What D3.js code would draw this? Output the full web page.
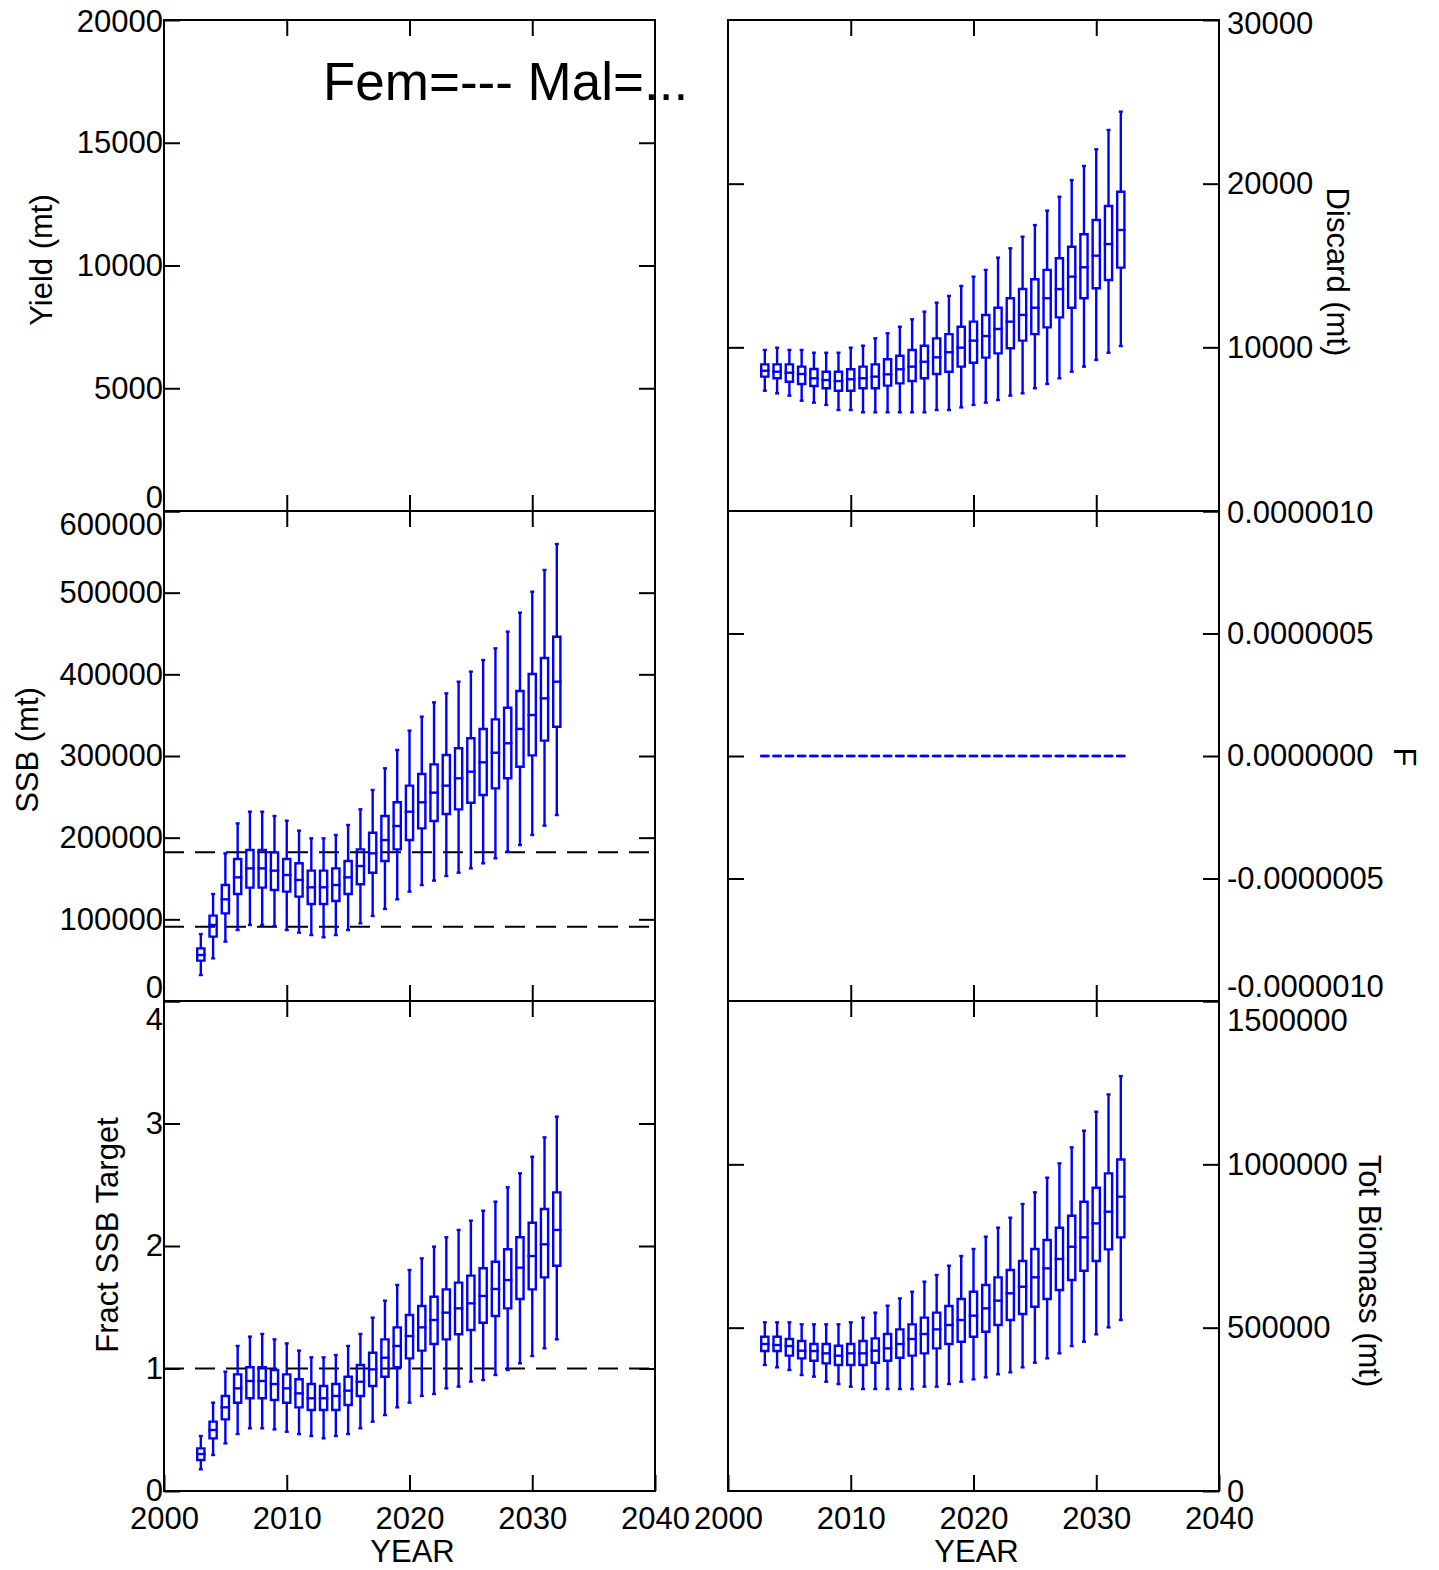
<!DOCTYPE html>
<html>
<head>
<meta charset="utf-8">
<script src="https://cdn.jsdelivr.net/npm/d3@7"></script>
<style>
  html, body { margin: 0; padding: 0; background: #fff; }
  svg { display: block; }
</style>
</head>
<body>
<script>
// ---------------- DATA ----------------
const years = [2003,2004,2005,2006,2007,2008,2009,2010,2011,2012,2013,2014,2015,2016,2017,
               2018,2019,2020,2021,2022,2023,2024,2025,2026,2027,2028,2029,2030,2031,2032];

// SSB (mt)
const ssbLo  = [31800,52200,72700,86900,93100,93100,91800,86900,83700,80800,78000,80800,86900,95100,104100,
                112700,124500,133900,142000,147400,153100,157100,162400,168600,174700,182900,191000,203300,214700,227700];
const ssbQ1  = [49400,78800,107300,131000,138800,138800,135900,133900,127800,118800,118800,122400,131000,142900,157100,
                171400,185700,197100,211400,220400,229000,234700,242800,252200,260400,272700,286900,300800,318800,335900];
const ssbMed = [56300,93100,124500,151400,162400,162400,159600,154300,148200,139200,139200,142000,151400,165300,180800,
                197100,214300,231800,243300,255100,263700,272700,280800,292300,304000,315600,333100,350200,370600,391000];
const ssbQ3  = [64500,104500,142000,173900,184900,184900,182000,173900,168600,159600,159600,162400,171400,185700,206100,
                226500,243300,263700,278000,289800,301200,309400,321700,333100,344900,359100,379600,400400,420000,446100];
const ssbHi  = [82000,131000,180800,217500,231800,231800,226500,220800,208600,199200,199200,203300,215500,234700,258400,
                284900,307400,331000,348200,365700,376700,391000,403300,417500,431800,452300,475500,501200,527800,559600];
const ssbRefLines = [182000, 91000];

// Fract SSB Target
const frLo  = [0.177,0.294,0.389,0.465,0.512,0.512,0.503,0.484,0.465,0.449,0.430,0.449,0.465,0.512,0.566,
               0.620,0.683,0.721,0.776,0.792,0.838,0.852,0.893,0.906,0.947,0.988,1.042,1.102,1.165,1.238];
const frQ1  = [0.253,0.430,0.585,0.721,0.757,0.757,0.743,0.721,0.683,0.661,0.661,0.661,0.702,0.776,0.857,
               0.933,1.010,1.083,1.146,1.200,1.238,1.279,1.314,1.374,1.429,1.491,1.567,1.646,1.744,1.839];
const frMed = [0.302,0.498,0.683,0.838,0.898,0.898,0.873,0.838,0.797,0.757,0.757,0.776,0.819,0.892,0.993,
               1.088,1.184,1.265,1.336,1.396,1.456,1.491,1.532,1.592,1.649,1.722,1.823,1.918,2.014,2.131];
const frQ3  = [0.348,0.566,0.776,0.952,1.010,1.010,0.988,0.952,0.912,0.873,0.857,0.873,0.933,1.029,1.129,
               1.238,1.336,1.437,1.510,1.586,1.646,1.701,1.758,1.818,1.872,1.973,2.071,2.190,2.302,2.438];
const frHi  = [0.449,0.721,0.974,1.184,1.260,1.282,1.238,1.205,1.146,1.091,1.091,1.110,1.184,1.282,1.415,
               1.554,1.682,1.804,1.899,1.995,2.071,2.131,2.207,2.288,2.362,2.479,2.593,2.729,2.887,3.056];
const frRefLines = [1];

// Discard (mt)
const dsLo  = [7350,7190,7050,6740,6620,6480,6170,6170,6030,6030,6030,6030,6030,6030,6170,
               6170,6330,6480,6620,6780,7050,7190,7500,7760,8110,8510,8820,9230,9670,10080];
const dsQ1  = [8210,8110,7900,7760,7640,7500,7350,7350,7500,7500,7660,7800,7940,8110,8370,
               8510,8820,9060,9370,9630,9940,10410,10810,11220,11830,12420,13000,13610,14110,14870];
const dsMed = [8570,8510,8450,8370,8110,8000,7940,8050,8110,8210,8350,8660,8820,9120,9390,
               9700,9980,10410,10690,11120,11570,11980,12420,13000,13560,14320,14890,15600,16310,17170];
const dsQ3  = [8960,8960,8960,8820,8680,8510,8510,8660,8820,8960,9270,9490,9840,10100,10550,
               10810,11260,11570,11980,12420,13000,13560,14160,14730,15440,16150,16910,17780,18640,19510];
const dsHi  = [9840,9980,9840,9840,9670,9670,9670,9980,10100,10550,10860,11260,11710,12180,12730,
               13140,13750,14320,14730,15480,16050,16760,17470,18350,19200,20220,21080,22100,23280,24400];

// F (all zero)
const fVal  = [0,0,0,0,0,0,0,0,0,0,0,0,0,0,0,0,0,0,0,0,0,0,0,0,0,0,0,0,0,0];

// Tot Biomass (mt)
const tbLo  = [385700,378600,370400,355100,350000,334600,327500,319400,312200,312200,312200,312200,312200,319400,319400,
               327500,334600,341800,347900,357200,363300,378600,392800,406100,421400,443800,457100,479600,500900,523400];
const tbQ1  = [428500,428500,414300,406100,398900,390800,385700,385700,385700,392800,398900,408100,414300,421400,436700,
               450000,457100,472400,487700,508100,523400,541800,564200,587700,615300,645900,674400,704000,739700,776500];
const tbMed = [450000,446900,443800,429500,428500,421400,414300,421400,421400,429500,436700,450000,465300,480600,494800,
               508100,523400,536700,559200,582600,605200,625400,654100,681600,710200,747800,776500,819300,855000,901000];
const tbQ3  = [472400,472400,465300,459200,450000,450000,444800,450000,459200,467300,480600,494800,510200,530600,545900,
               566300,587700,610100,630600,654100,676500,704000,740800,768300,806000,842800,885600,928500,972400,1015000];
const tbHi  = [516300,516300,516300,510200,510200,510200,510200,516300,530600,545900,567300,589700,610100,640800,661200,
               689700,719300,740800,778500,806000,836600,878500,914300,959100,1003000,1052000,1103000,1161000,1214000,1270000];

// Ticks and labels
const xTickYears   = [2000, 2010, 2020, 2030, 2040];
const yieldTicks   = [0, 5000, 10000, 15000, 20000];
const ssbTicks     = [0, 100000, 200000, 300000, 400000, 500000, 600000];
const fracTicks    = [0, 1, 2, 3, 4];
const discTicks    = [0, 10000, 20000, 30000];
const discTickLabels = ["", "10000", "20000", "30000"];
const fTicks       = [-0.000001, -0.0000005, 0, 0.0000005, 0.000001];
const fTickLabels  = ["-0.0000010", "-0.0000005", "0.0000000", "0.0000005", "0.0000010"];
const tbTicks      = [0, 500000, 1000000, 1500000];

// ---------------- DRAWING ----------------
const W = 1439, H = 1570;
const FONT = "'Liberation Sans', Arial, Helvetica, sans-serif";
const BLUE = "#0000ff";
const svg = d3.select("body").append("svg").attr("width", W).attr("height", H)
  .style("font-family", FONT);

const colX = [[164, 655], [728, 1219]];
const rowY = [[20, 511], [511, 1001], [1001, 1491]];
const TICK = 16;

function makePanel(col, row, yDomain, opts) {
  const x = d3.scaleLinear().domain([2000, 2040]).range(colX[col]);
  const y = d3.scaleLinear().domain(yDomain).range([rowY[row][1], rowY[row][0]]);
  const g = svg.append("g");
  const [x0, x1] = colX[col], [y0, y1] = rowY[row];

  const xt = [2010, 2020, 2030];
  const topAx = g.append("g").attr("transform", `translate(0,${y0})`)
    .call(d3.axisTop(x).tickValues(xt).tickSize(-TICK).tickFormat(""));
  const botAx = g.append("g").attr("transform", `translate(0,${y1})`)
    .call(d3.axisBottom(x).tickValues(opts.xLabels ? xTickYears : xt).tickSize(-TICK).tickPadding(16)
      .tickFormat(opts.xLabels ? d3.format("d") : ""));
  const inner = opts.ticks.slice(1, -1);
  const leftAx = g.append("g").attr("transform", `translate(${x0},0)`);
  const rightAx = g.append("g").attr("transform", `translate(${x1},0)`);
  if (col === 0) {
    leftAx.call(d3.axisLeft(y).tickValues(opts.ticks).tickSize(-TICK).tickPadding(1)
      .tickFormat((d, i) => opts.labels ? opts.labels[i] : d3.format("d")(d)));
    rightAx.call(d3.axisRight(y).tickValues(inner).tickSize(-TICK).tickFormat(""));
  } else {
    leftAx.call(d3.axisLeft(y).tickValues(inner).tickSize(-TICK).tickFormat(""));
    rightAx.call(d3.axisRight(y).tickValues(opts.ticks).tickSize(-TICK).tickPadding(8)
      .tickFormat((d, i) => opts.labels ? opts.labels[i] : d3.format("d")(d)));
  }
  [topAx, botAx, leftAx, rightAx].forEach(a => {
    a.select(".domain").remove();
    a.selectAll("line").attr("stroke", "#000").attr("stroke-width", 2);
    a.selectAll("text").attr("fill", "#000").style("font-family", FONT).style("font-size", "31px");
  });
  const ax = col === 0 ? leftAx : rightAx;
  ax.selectAll(".tick text").each(function(d, i) {
    const n = opts.nudge && opts.nudge[i] !== undefined ? opts.nudge[i] : 0;
    d3.select(this).attr("y", n);
    if (d3.select(this).text() === "") d3.select(this).remove();
  });
  g.append("rect").attr("x", x0).attr("y", y0).attr("width", x1 - x0).attr("height", y1 - y0)
    .attr("fill", "none").attr("stroke", "#000").attr("stroke-width", 2);
  return { x, y, g };
}

function refLines(p, vals) {
  vals.forEach(v => {
    p.g.append("line").attr("x1", p.x.range()[0]).attr("x2", p.x.range()[1])
      .attr("y1", p.y(v)).attr("y2", p.y(v))
      .attr("stroke", "#000").attr("stroke-width", 2).attr("stroke-dasharray", "20,11");
  });
}

function boxes(p, lo, q1, med, q3, hi) {
  const hw = 3.6, cw = 2;
  const gb = p.g.append("g").attr("stroke", BLUE).attr("stroke-width", 2.4).attr("fill", "none");
  years.forEach((yr, i) => {
    const cx = p.x(yr);
    const yLo = p.y(lo[i]), yQ1 = p.y(q1[i]), yM = p.y(med[i]), yQ3 = p.y(q3[i]), yHi = p.y(hi[i]);
    if (yHi < yQ3) {
      gb.append("line").attr("x1", cx).attr("x2", cx).attr("y1", yQ3).attr("y2", yHi);
      gb.append("line").attr("x1", cx - cw).attr("x2", cx + cw).attr("y1", yHi).attr("y2", yHi);
    }
    if (yLo > yQ1) {
      gb.append("line").attr("x1", cx).attr("x2", cx).attr("y1", yQ1).attr("y2", yLo);
      gb.append("line").attr("x1", cx - cw).attr("x2", cx + cw).attr("y1", yLo).attr("y2", yLo);
    }
    gb.append("path").attr("d", `M${cx - hw},${yQ3}H${cx + hw}V${yQ1}H${cx - hw}Z`);
    gb.append("line").attr("x1", cx - hw).attr("x2", cx + hw).attr("y1", yM).attr("y2", yM)
      .attr("stroke-linecap", "square");
  });
}

// Panels
const pYield = makePanel(0, 0, [0, 20000], { ticks: yieldTicks, nudge: { 0: -13, 4: 2 } });
const pDisc  = makePanel(1, 0, [0, 30000], { ticks: discTicks, labels: discTickLabels, nudge: { 3: 4 } });
const pSSB   = makePanel(0, 1, [0, 600000], { ticks: ssbTicks, nudge: { 0: -13, 6: 14 } });
const pF     = makePanel(1, 1, [-0.000001, 0.000001], { ticks: fTicks, labels: fTickLabels, nudge: { 0: -14, 4: 2 } });
const pFrac  = makePanel(0, 2, [0, 4], { ticks: fracTicks, nudge: { 0: 0, 4: 19 }, xLabels: true });
const pTB    = makePanel(1, 2, [0, 1500000], { ticks: tbTicks, nudge: { 0: 1, 3: 20 }, xLabels: true });

refLines(pSSB, ssbRefLines);
refLines(pFrac, frRefLines);

boxes(pDisc, dsLo, dsQ1, dsMed, dsQ3, dsHi);
boxes(pSSB, ssbLo, ssbQ1, ssbMed, ssbQ3, ssbHi);
boxes(pF, fVal, fVal, fVal, fVal, fVal);
boxes(pFrac, frLo, frQ1, frMed, frQ3, frHi);
boxes(pTB, tbLo, tbQ1, tbMed, tbQ3, tbHi);

// Annotation
svg.append("text").attr("x", 323).attr("y", 100).style("font-size", "53px").attr("fill", "#000")
  .text("Fem=--- Mal=...");

// Axis titles
function vTitle(txt, x, y, rot) {
  svg.append("text").attr("transform", `translate(${x},${y}) rotate(${rot})`)
    .attr("text-anchor", "middle").attr("dy", "0.35em").style("font-size", "31px").attr("fill", "#000")
    .text(txt);
}
vTitle("Yield (mt)", 41, 260, -90);
vTitle("SSB (mt)", 27, 750, -90);
vTitle("Fract SSB Target", 107, 1235, -90);
vTitle("Discard (mt)", 1338, 272, 90);
vTitle("F", 1405, 757, 90);
vTitle("Tot Biomass (mt)", 1370, 1271, 90);

[pFrac, pTB].forEach(p => {
  svg.append("text").attr("x", (p.x.range()[0] + p.x.range()[1]) / 2 + 3).attr("y", 1562)
    .attr("text-anchor", "middle").style("font-size", "31px").attr("fill", "#000").text("YEAR");
});
</script>
</body>
</html>
